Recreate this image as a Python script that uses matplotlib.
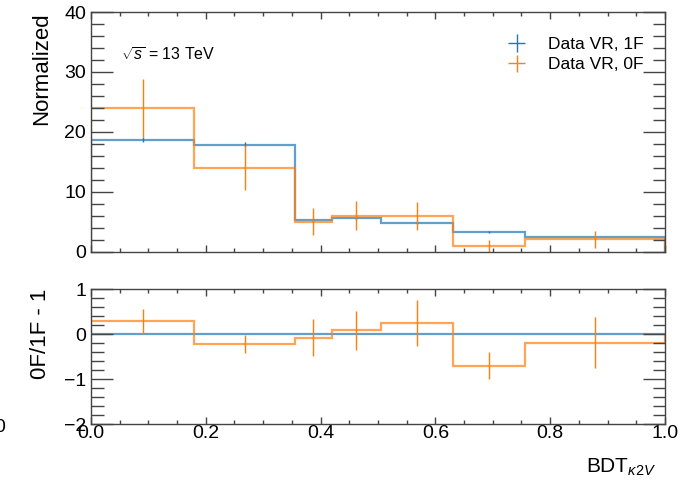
import matplotlib.pyplot as plt
import numpy as np

plt.rcParams['font.family'] = ['Liberation Sans', 'DejaVu Sans']
plt.rcParams['mathtext.fontset'] = 'custom'
plt.rcParams['mathtext.rm'] = 'Liberation Sans'
plt.rcParams['mathtext.it'] = 'Liberation Sans:italic'

# bin edges of BDT_k2V
edges = [0.0, 0.18, 0.355, 0.42, 0.505, 0.63, 0.757, 1.0]

# normalized yields
vr_1f = [18.7, 17.9, 5.35, 5.6, 4.9, 3.3, 2.45]
vr_1f_err = [0.45, 0.35, 0.25, 0.25, 0.2, 0.15, 0.12]
vr_0f = [24.0, 14.05, 5.05, 6.05, 6.0, 1.0, 2.1]
vr_0f_err = [4.9, 3.8, 2.2, 2.4, 2.4, 1.0, 1.45]

# ratio 0F/1F - 1
ratio = [0.28, -0.22, -0.08, 0.08, 0.245, -0.70, -0.19]
ratio_err = [0.27, 0.20, 0.41, 0.44, 0.51, 0.31, 0.57]

blue = '#1f77b4'
orange = '#ff7f0e'
frame = '#444444'

edges = np.array(edges)
centers = 0.5 * (edges[1:] + edges[:-1])

fig = plt.figure(figsize=(6.8, 4.82), dpi=100)
ax = fig.add_axes([0.1338, 0.4772, 0.8441, 0.4979])
rax = fig.add_axes([0.1338, 0.1203, 0.8441, 0.2801])

# top panel
ax.stairs(vr_1f, edges, color=blue, lw=1.6, alpha=0.7)
h1 = ax.errorbar(centers, vr_1f, yerr=vr_1f_err, xerr=0, fmt='none',
                 ecolor=blue, elinewidth=1.0, label='Data VR, 1F')
ax.stairs(vr_0f, edges, color=orange, lw=1.6, alpha=0.7)
h2 = ax.errorbar(centers, vr_0f, yerr=vr_0f_err, xerr=0, fmt='none',
                 ecolor=orange, elinewidth=1.0, label='Data VR, 0F')

ax.set_xlim(0, 1)
ax.set_ylim(0, 40)
ax.set_yticks([0, 10, 20, 30, 40])
ax.set_yticks(np.arange(0, 41, 2), minor=True)
ax.set_xticks(np.arange(0, 1.01, 0.2))
ax.set_xticks(np.arange(0, 1.01, 0.05), minor=True)
ax.tick_params(labelbottom=False)
ax.set_ylabel('Normalized', fontsize=16, loc='top', labelpad=9)
ax.text(0.052, 0.818, r'$\sqrt{s}$ = 13 TeV', transform=ax.transAxes,
        fontsize=11.5, va='center')
ax.legend(handles=[h1, h2], loc='upper left', frameon=False,
          fontsize=12.5, bbox_to_anchor=(0.71, 0.896), borderaxespad=0,
          borderpad=0, handlelength=2.1, handletextpad=0.75,
          labelspacing=0.3)

# ratio panel
rax.stairs(np.zeros(len(ratio)), edges, color=blue, lw=1.6, alpha=0.7)
rax.stairs(ratio, edges, color=orange, lw=1.6, alpha=0.7)
rax.errorbar(centers, ratio, yerr=ratio_err, fmt='none', ecolor=orange,
             elinewidth=1.0)
rax.set_xlim(0, 1)
rax.set_ylim(-2, 1)
rax.set_yticks([-2, -1, 0, 1])
rax.set_yticks(np.arange(-2, 1.01, 0.2), minor=True)
rax.set_xticks(np.arange(0, 1.01, 0.2))
rax.set_xticks(np.arange(0, 1.01, 0.05), minor=True)
rax.set_xticklabels(['0.0', '0.2', '0.4', '0.6', '0.8', '1.0'])
rax.set_ylabel('0F/1F - 1', fontsize=16, loc='top', labelpad=9)
rax.set_xlabel(r'BDT$_{\kappa2V}$', fontsize=15, loc='right', labelpad=10)
rax.xaxis.label.set_x(0.984)

for a in (ax, rax):
    for s in a.spines.values():
        s.set_color(frame)
        s.set_linewidth(1.0)
    a.tick_params(which='both', direction='in', top=True, right=True,
                  colors=frame, labelcolor='black', labelsize=14)
    a.tick_params(axis='y', which='major', length=16, width=1.0)
    a.tick_params(axis='y', which='minor', length=9, width=1.0)
    a.tick_params(axis='x', which='major', length=5, width=1.0)
    a.tick_params(axis='x', which='minor', length=3, width=1.0)
rax.tick_params(axis='x', pad=1)

# clipped label at the left edge
fig.text(5 / 680, 1 - 428 / 482, '0', fontsize=14, ha='right', va='center')

fig.savefig('out.png', dpi=100)
